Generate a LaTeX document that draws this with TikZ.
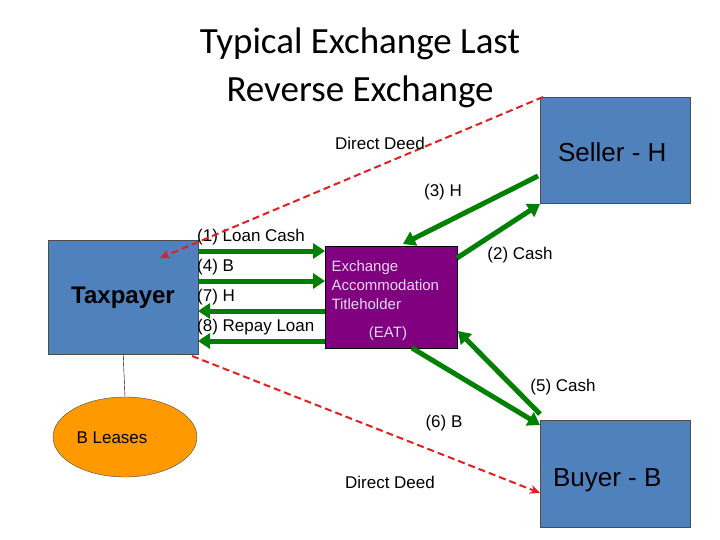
\documentclass[tikz,border=0pt]{standalone}
\usepackage{fontspec}
\setmainfont{Liberation Sans}
\newfontfamily\titlefnt{Carlito}
\usetikzlibrary{arrows.meta,shapes.geometric}
\begin{document}
\begin{tikzpicture}[x=1pt,y=-1pt,
 box/.style={draw=black!70,fill={rgb,255:red,79;green,129;blue,189},minimum width=150pt,anchor=north west,inner sep=0pt},
 g/.style={draw={rgb,255:red,0;green,128;blue,0},line width=5pt,-{Triangle[length=12pt,width=15pt]}},
 rd/.style={draw={rgb,255:red,224;green,32;blue,32},line width=2pt,dash pattern=on 7pt off 4pt,-{Stealth[length=10pt,width=9pt]}},
 lab/.style={font=\fontsize{17}{19}\selectfont,inner sep=1pt}]
\useasboundingbox (0,0) rectangle (720,540);
\node[font=\titlefnt\fontsize{37}{48}\selectfont,align=center] (t) at (360,68) {Typical Exchange Last\\Reverse Exchange};
\node[box,minimum height=114pt] (tp) at (48,240) {};
\node[font=\bfseries\fontsize{24}{28}\selectfont] (tpl) at (123,298) {Taxpayer};
\node[box,minimum height=106pt] (s) at (540,97) {};
\node[font=\fontsize{26}{30}\selectfont,anchor=east] (sl) at (670,152) {Seller - H};
\node[box,minimum height=107pt] (b) at (540,420) {};
\node[font=\fontsize{26}{30}\selectfont,anchor=east] (bl) at (665,480) {Buyer - B};
\node[draw=black,fill={rgb,255:red,128;green,0;blue,128},minimum width=132pt,minimum height=102pt,anchor=north west,inner sep=0pt] (e) at (325,246) {};
\node[font=\fontsize{15}{19}\selectfont,text={rgb,255:red,230;green,215;blue,240},align=left,anchor=north west] (et) at (328,257) {Exchange\\Accommodation\\Titleholder};
\node[font=\fontsize{15}{17}\selectfont,text={rgb,255:red,230;green,215;blue,240}] (eat) at (388,334) {(EAT)};
\node[ellipse,draw=black!70,fill={rgb,255:red,255;green,153;blue,0},minimum width=144pt,minimum height=80pt] (bl2) at (125,437) {};
\node[lab] (blt) at (112,438) {B Leases};
\draw[black] (tp.south) -- (bl2.north);
\coordinate (a1) at (198,251); \coordinate (a1e) at (325,251);
\coordinate (a4) at (198,281); \coordinate (a4e) at (325,281);
\coordinate (a7) at (325,311); \coordinate (a7e) at (198,311);
\coordinate (a8) at (325,341); \coordinate (a8e) at (198,341);
\draw[g] (a1) -- (a1e); \draw[g] (a4) -- (a4e);
\draw[g] (a7) -- (a7e); \draw[g] (a8) -- (a8e);
\node[lab,anchor=south west] at (196,246) {(1) Loan Cash};
\node[lab,anchor=south west] at (196,276) {(4) B};
\node[lab,anchor=south west] at (196,306) {(7) H};
\node[lab,anchor=south west] at (196,336) {(8) Repay Loan};
\coordinate (h3s) at (538,176); \coordinate (h3e) at (403,244);
\draw[g] (h3s) -- (h3e);
\coordinate (c2s) at (457,258); \coordinate (c2e) at (540,204);
\draw[g] (c2s) -- (c2e);
\coordinate (b6s) at (412,348); \coordinate (b6e) at (540,425);
\draw[g] (b6s) -- (b6e);
\coordinate (c5s) at (540,414); \coordinate (c5e) at (458,331);
\draw[g] (c5s) -- (c5e);
\coordinate (d1s) at (543,97); \coordinate (d1e) at (160,258);
\draw[rd] (d1s) -- (d1e);
\coordinate (d2s) at (192,356); \coordinate (d2e) at (540,493);
\draw[rd] (d2s) -- (d2e);
\node[lab] at (380,143) {Direct Deed};
\node[lab] at (443,192) {(3) H};
\node[lab] at (520,255) {(2) Cash};
\node[lab] at (563,387) {(5) Cash};
\node[lab] at (444,423) {(6) B};
\node[lab] at (390,482) {Direct Deed};
\end{tikzpicture}
\end{document}
